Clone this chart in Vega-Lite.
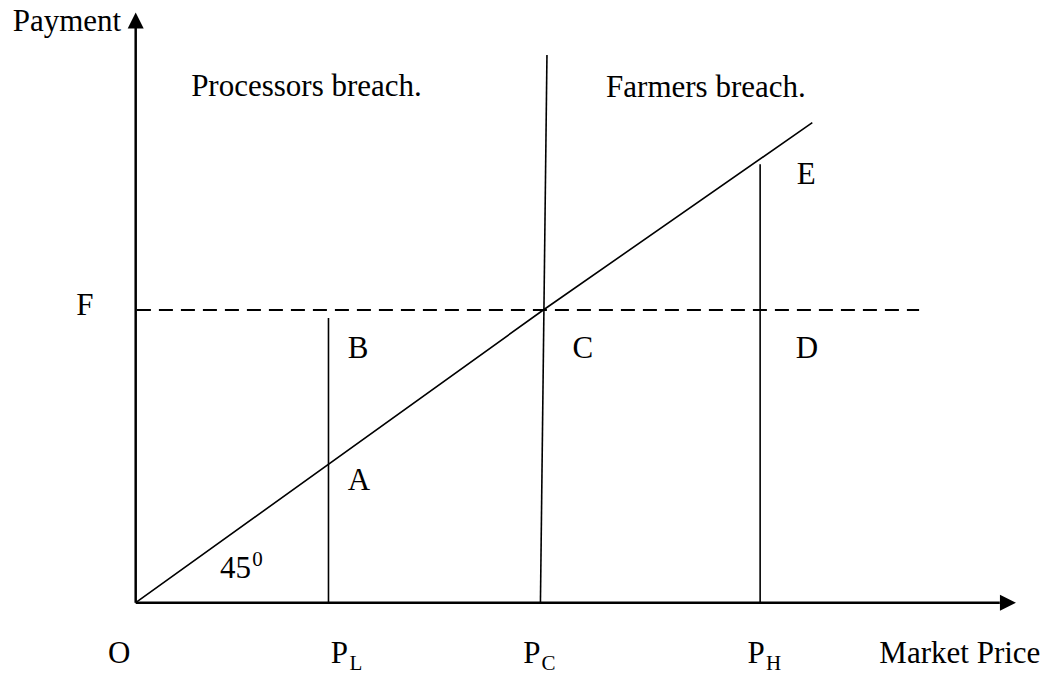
{
  "$schema": "https://vega.github.io/schema/vega-lite/v6.json",
  "width": 1049,
  "height": 679,
  "autosize": {"type": "fit", "contains": "padding"},
  "padding": 0,
  "background": "white",
  "config": {"view": {"stroke": null}},
  "datasets": {
    "lines": [
      {"id": "yaxis", "kind": "axis", "seq": 0, "x": 0, "y": 0},
      {"id": "yaxis", "kind": "axis", "seq": 1, "x": 0, "y": 19.7},
      {"id": "xaxis", "kind": "axis", "seq": 0, "x": 0, "y": 0},
      {"id": "xaxis", "kind": "axis", "seq": 1, "x": 21.2, "y": 0},
      {"id": "diag", "kind": "thin", "seq": 0, "x": 0, "y": 0},
      {"id": "diag", "kind": "thin", "seq": 1, "x": 10, "y": 10},
      {"id": "diag", "kind": "thin", "seq": 2, "x": 16.6, "y": 16.4},
      {"id": "PL", "kind": "thin", "seq": 0, "x": 4.73, "y": 0},
      {"id": "PL", "kind": "thin", "seq": 1, "x": 4.73, "y": 9.73},
      {"id": "PC", "kind": "thin", "seq": 0, "x": 9.93, "y": 0},
      {"id": "PC", "kind": "thin", "seq": 1, "x": 10.09, "y": 18.71},
      {"id": "PH", "kind": "thin", "seq": 0, "x": 15.32, "y": 0},
      {"id": "PH", "kind": "thin", "seq": 1, "x": 15.32, "y": 14.98},
      {"id": "F", "kind": "dash", "seq": 0, "x": 0.03, "y": 10},
      {"id": "F", "kind": "dash", "seq": 1, "x": 19.22, "y": 10}
    ],
    "arrows": [
      {"dir": "up", "x": 0, "y": 19.89},
      {"dir": "right", "x": 21.4, "y": 0}
    ],
    "labels": [
      {"label": "Payment", "kind": "main", "x": -1.686, "y": 19.53},
      {"label": "Processors breach.", "kind": "main", "x": 4.19, "y": 17.31},
      {"label": "Farmers breach.", "kind": "main", "x": 13.99, "y": 17.29},
      {"label": "F", "kind": "main", "x": -1.244, "y": 9.83},
      {"label": "B", "kind": "main", "x": 5.454, "y": 8.35},
      {"label": "C", "kind": "main", "x": 10.97, "y": 8.35},
      {"label": "D", "kind": "main", "x": 16.47, "y": 8.35},
      {"label": "E", "kind": "main", "x": 16.45, "y": 14.3},
      {"label": "A", "kind": "main", "x": 5.48, "y": 3.85},
      {"label": "45", "kind": "main", "x": 2.449, "y": 0.844},
      {"label": "O", "kind": "main", "x": -0.407, "y": -2.07},
      {"label": "P", "kind": "main", "x": 5.0, "y": -2.07},
      {"label": "P", "kind": "main", "x": 9.72, "y": -2.07},
      {"label": "P", "kind": "main", "x": 15.22, "y": -2.07},
      {"label": "Market Price", "kind": "main", "x": 20.22, "y": -2.06},
      {"label": "L", "kind": "small", "x": 5.4, "y": -2.3},
      {"label": "C", "kind": "small", "x": 10.13, "y": -2.3},
      {"label": "H", "kind": "small", "x": 15.65, "y": -2.3},
      {"label": "0", "kind": "small", "x": 2.988, "y": 1.27}
    ]
  },
  "encoding": {
    "x": {"field": "x", "type": "quantitative", "scale": {"domain": [-3.329, 22.407], "nice": false, "zero": false}, "axis": null},
    "y": {"field": "y", "type": "quantitative", "scale": {"domain": [-2.607, 20.591], "nice": false, "zero": false}, "axis": null}
  },
  "layer": [
    {
      "data": {"name": "lines"},
      "transform": [{"filter": "datum.kind === 'axis'"}],
      "mark": {"type": "line", "color": "black", "strokeWidth": 2.5},
      "encoding": {"detail": {"field": "id"}, "order": {"field": "seq", "type": "quantitative"}}
    },
    {
      "data": {"name": "lines"},
      "transform": [{"filter": "datum.kind === 'thin'"}],
      "mark": {"type": "line", "color": "black", "strokeWidth": 1.6},
      "encoding": {"detail": {"field": "id"}, "order": {"field": "seq", "type": "quantitative"}}
    },
    {
      "data": {"name": "lines"},
      "transform": [{"filter": "datum.kind === 'dash'"}],
      "mark": {"type": "line", "color": "black", "strokeWidth": 2, "strokeDash": [14, 8]},
      "encoding": {"detail": {"field": "id"}, "order": {"field": "seq", "type": "quantitative"}}
    },
    {
      "data": {"name": "arrows"},
      "transform": [{"filter": "datum.dir === 'up'"}],
      "mark": {"type": "point", "filled": true, "color": "black", "opacity": 1, "size": 256, "shape": "M0,-1L1,1L-1,1Z"}
    },
    {
      "data": {"name": "arrows"},
      "transform": [{"filter": "datum.dir === 'right'"}],
      "mark": {"type": "point", "filled": true, "color": "black", "opacity": 1, "size": 256, "shape": "M1,0L-1,-1L-1,1Z"}
    },
    {
      "data": {"name": "labels"},
      "transform": [{"filter": "datum.kind === 'main'"}],
      "mark": {"type": "text", "font": "Liberation Serif", "fontSize": 31, "color": "black", "align": "center", "baseline": "alphabetic"},
      "encoding": {"text": {"field": "label"}}
    },
    {
      "data": {"name": "labels"},
      "transform": [{"filter": "datum.kind === 'small'"}],
      "mark": {"type": "text", "font": "Liberation Serif", "fontSize": 21, "color": "black", "align": "center", "baseline": "alphabetic"},
      "encoding": {"text": {"field": "label"}}
    }
  ]
}
